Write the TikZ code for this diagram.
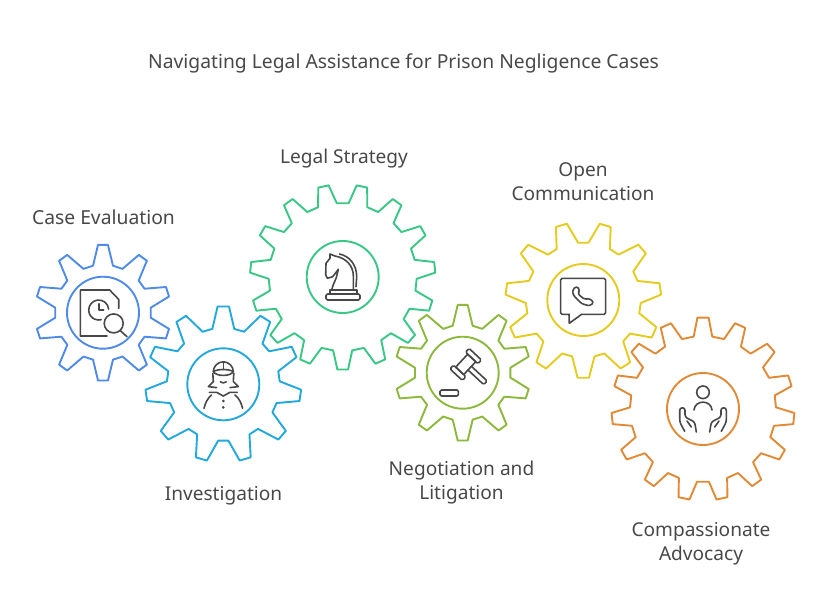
\documentclass[tikz,border=0pt]{standalone}
\usepackage{fontspec}
\setmainfont{Noto Sans}
\definecolor{caseblue}{HTML}{4F8AE6}
\definecolor{probecyan}{HTML}{22A8DC}
\definecolor{planGreen}{HTML}{38C785}
\definecolor{courtlime}{HTML}{8CB83C}
\definecolor{callyellow}{HTML}{E5CB1E}
\definecolor{careorange}{HTML}{E08A36}
\definecolor{iconink}{HTML}{484848}
\tikzset{
    gearline/.style={line width=1.9pt,line join=round},
    hub/.style={draw,circle,line width=1.9pt,minimum size=72pt,inner sep=0pt},
    ink/.style={draw=iconink,line width=1.6pt,line cap=round,line join=round},
    caption/.style={text=iconink,inner sep=0pt,align=center,font=\fontsize{19.1}{24}\selectfont},
}
% colour, centre, teeth, tip radius, root radius, half tip, half base, first tooth
\newcommand{\gearwheel}[8]{
    \begin{scope}[shift={#2}]
        \pgfmathsetmacro{\gstep}{360/#3}
        \draw[gearline,draw=#1] (#8-#6:#4)
            \foreach \k [evaluate=\k as \a using #8+(\k-1)*\gstep] in {1,...,#3} {
                -- (\a+#6:#4) -- (\a+#7:#5) -- (\a+\gstep-#7:#5) -- (\a+\gstep-#6:#4)
            } -- cycle;
    \end{scope}
}
\begin{document}
\begin{tikzpicture}[x=1pt,y=-1pt]
        \useasboundingbox (0,0) rectangle (820,614);
        % Texts
        \node[caption,font=\fontsize{19.3}{24}\selectfont] (title) at (403.5,63) {Navigating Legal Assistance for Prison Negligence Cases};
        \node[caption,font=\fontsize{19.3}{24}\selectfont] (casetext) at (103.5,217) {Case Evaluation};
        \node[caption] (probetext) at (223.5,496) {Investigation};
        \node[caption] (plantext) at (344,159) {Legal Strategy};
        \node[caption] (courttext) at (461.5,483) {Negotiation and\\Litigation};
        \node[caption] (calltext) at (583,182) {Open\\Communication};
        \node[caption] (caretext) at (701,544) {Compassionate\\Advocacy};
        % Gears
        \gearwheel{caseblue}{(103,312.7)}{10}{68}{48}{4.2}{12}{-90}
        \gearwheel{probecyan}{(223.3,384.3)}{11}{78}{56.5}{4.2}{11.2}{-90}
        \gearwheel{planGreen}{(342.7,277)}{15}{92.7}{74}{3.3}{7.4}{90}
        \gearwheel{courtlime}{(462.7,372.7)}{10}{68}{48}{4.2}{12}{-90}
        \gearwheel{callyellow}{(583.3,300)}{11}{78}{57.5}{4.2}{11.2}{90}
        \gearwheel{careorange}{(703,409)}{15}{91.5}{73}{3.5}{7.3}{-90}
        % Hubs
        \node[hub,draw=caseblue] (casehub) at (103,312.7) {};
        \node[hub,draw=probecyan] (probehub) at (223.3,384.3) {};
        \node[hub,draw=planGreen] (planhub) at (342.7,277) {};
        \node[hub,draw=courtlime] (courthub) at (462.7,372.7) {};
        \node[hub,draw=callyellow] (callhub) at (583.3,300) {};
        \node[hub,draw=careorange] (carehub) at (703,409) {};
        % File with clock and lens
        \begin{scope}[shift={(casehub.center)}]
            \draw[ink] (4,23.3) -- (-22.7,23.3) -- (-22.7,-22.7) -- (6.7,-22.7) -- (15.7,-13.3) -- (15.7,-4.3);
            \draw[ink] (-4.3,-2.7) ++(-5:10) arc[start angle=-5,end angle=-285,radius=10];
            \draw[ink] (-4.3,-9) -- (-4.3,-2.7) -- (0.7,-2.7);
            \draw[ink] (10.7,10.7) circle[radius=9.5];
            \draw[ink] (17.3,18) -- (24,24);
        \end{scope}
        % Detective
        \begin{scope}[shift={(probehub.center)}]
            \draw[ink] (-10,-12.5) arc[start angle=180,end angle=360,radius=10];
            \draw[ink] (0,-22.5) -- (0,-15);
            \draw[ink] (-10,-13) .. controls (-4,-15.5) and (4,-15.5) .. (10,-13) .. controls (8,-7.5) and (-8,-7.5) .. cycle;
            \draw[ink] (-3,-2.5) .. controls (-1,-1) and (1,-1) .. (3,-2.5);
            \foreach \side in {1,-1} {
                \begin{scope}[xscale=\side]
                    \draw[ink] (-10.5,-11) -- (-10,-2.7) -- (-15,2.3) -- (-6.7,3.3);
                    \draw[ink] (-14,8) -- (-6.7,8) -- (0,11.7);
                    \draw[ink] (-11.7,10.7) .. controls (-16,14) and (-18,19) .. (-19.3,24);
                \end{scope}
            }
            \fill[iconink] (0,16.7) circle[radius=1.5] (0,23) circle[radius=1.5];
        \end{scope}
        % Knight
        \begin{scope}[shift={(planhub.center)}]
            \draw[ink,rounded corners=1.5pt] (-16.7,17) rectangle (17.3,23);
            \draw[ink] (-12.7,17) -- (-12.7,13) -- (14,13) -- (14,17);
            \draw[ink] (-11,13) .. controls (-10,7) and (-6,2) .. (-5.3,-3.7) -- (-4.3,-7.7) -- (-10,-0.3) -- (-15.3,1.3) -- (-17,-2) -- (-16.7,-13.7) -- (-12.7,-18.7) -- (-12.7,-23) -- (-7.7,-21) .. controls (3,-19) and (10.7,-12) .. (10.7,-0.3) -- (10.7,12.3);
            \draw[ink] (-3.3,-23) .. controls (7,-21) and (14,-12) .. (14,-0.3) -- (13.3,9.7);
        \end{scope}
        % Gavel
        \begin{scope}[shift={(courthub.center)}]
            \draw[ink,rounded corners=1.5pt] (-22.7,17.3) rectangle (-4.3,23.3);
            \begin{scope}[shift={(3,-8.3)},rotate=-43]
                \draw[ink,rounded corners=1.5pt] (-8.5,-14) rectangle (8.5,-8.8);
                \draw[ink,rounded corners=1.5pt] (-8.5,8.8) rectangle (8.5,14);
                \draw[ink] (-5.5,-8.8) rectangle (5.5,8.8);
                \draw[ink,rounded corners=1.5pt] (5.5,-2.5) -- (27,-2.5) -- (27,2.5) -- (5.5,2.5);
            \end{scope}
        \end{scope}
        % Phone bubble
        \begin{scope}[shift={(callhub.center)}]
            \draw[ink,rounded corners=1.5pt] (-14,14.3) -- (-22.7,14.3) -- (-22.7,-21.7) -- (22.3,-21.7) -- (22.3,14.3) -- (-1.7,14.3);
            \draw[ink] (-14.3,14.3) -- (-14,23.3) -- (-1.7,14.3);
            \draw[ink,rounded corners=2.5pt] (-11,-9.7) -- (-6.7,-14) -- (-3.3,-9.7) -- (-5.7,-6.3) -- (1.7,-0.3) -- (5,-2) -- (10.7,2) -- (6.7,6) -- (-1.7,3.7) -- (-10,-4.7) -- cycle;
        \end{scope}
        % Person in hands
        \begin{scope}[shift={(carehub.center)}]
            \draw[ink] (0,-16.7) circle[radius=6.3];
            \draw[ink] (-9,1) .. controls (-8,-9.5) and (8,-9.5) .. (9,1);
            \foreach \side in {1,-1} {
                \begin{scope}[xscale=\side]
                    \draw[ink,rounded corners=2.5pt] (-18.3,22.3) -- (-23.3,13) -- (-23.3,-1.2) -- (-18,-1.2) -- (-18,8) -- (-8.3,13) -- (-6.7,23);
                    \draw[ink] (-16,12) -- (-11.7,18);
                \end{scope}
            }
        \end{scope}
\end{tikzpicture}
\end{document}
